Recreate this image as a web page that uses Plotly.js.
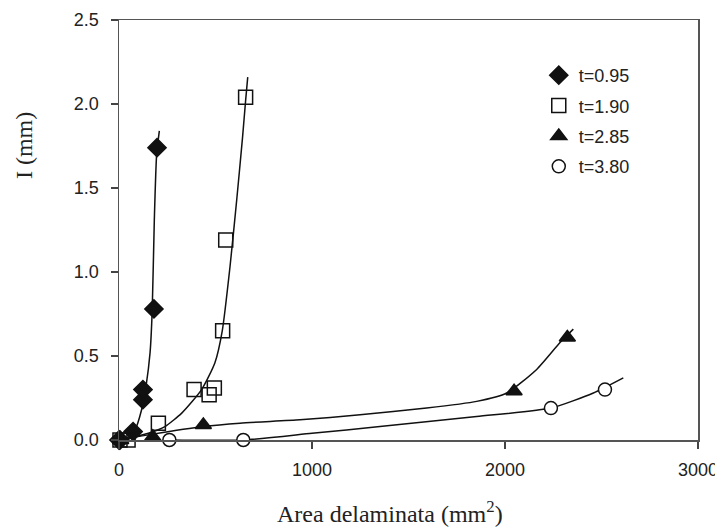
<!DOCTYPE html>
<html>
<head>
<meta charset="utf-8">
<script src="https://cdn.plot.ly/plotly-3.0.1.min.js"></script>
<style>html,body{margin:0;padding:0;background:#fff}#chart{width:715px;height:528px}</style>
</head>
<body>
<div id="chart"></div>
<script>
// Measured points (area mm^2, indentation mm)
const seriesNames = ['t=0.95', 't=1.90', 't=2.85', 't=3.80'];
const x095 = [0, 5, 73, 124, 124, 181, 197];
const y095 = [0, 0, 0.05, 0.24, 0.30, 0.78, 1.74];
const x190 = [5, 47, 204, 389, 467, 494, 537, 553, 656];
const y190 = [0, 0, 0.10, 0.30, 0.27, 0.31, 0.65, 1.19, 2.04];
const x285 = [9, 175, 437, 2047, 2323];
const y285 = [0, 0.02, 0.09, 0.29, 0.61];
const x380 = [261, 644, 2238, 2518];
const y380 = [0, 0, 0.19, 0.30];

// Trend lines
const fx095 = [0, 40, 83, 117, 140, 161, 172, 183, 195, 209];
const fy095 = [0, 0.01, 0.06, 0.18, 0.32, 0.52, 0.77, 1.31, 1.70, 1.84];
const fx190 = [0, 48, 152, 238, 325, 428, 497, 535, 575, 610, 640, 656, 667];
const fy190 = [0, 0.01, 0.04, 0.08, 0.16, 0.30, 0.46, 0.65, 1.03, 1.43, 1.80, 2.02, 2.16];
const fx285 = [0, 175, 437, 627, 938, 1249, 1594, 1853, 2009, 2164, 2285, 2354];
const fy285 = [0, 0.035, 0.08, 0.10, 0.12, 0.15, 0.19, 0.23, 0.28, 0.42, 0.58, 0.66];
const fx380 = [261, 644, 1000, 1352, 1853, 2238, 2458, 2613];
const fy380 = [0, 0, 0.04, 0.08, 0.14, 0.19, 0.28, 0.37];

const xTicks = [0, 1000, 2000, 3000];
const yTicks = [0, 0.5, 1.0, 1.5, 2.0, 2.5];
const xTitle = 'Area delaminata (mm<sup>2</sup>)';
const yTitle = 'I (mm)';

function fit(x, y) {
  return {x: x, y: y, type: 'scatter', mode: 'lines', showlegend: false, hoverinfo: 'skip',
    line: {color: '#111', width: 1.5, shape: 'spline', smoothing: 0.6}, cliponaxis: false};
}
function pts(x, y, name, symbol, size, fill) {
  return {x: x, y: y, type: 'scatter', mode: 'markers', name: name, legendgroup: name,
    cliponaxis: false,
    marker: {symbol: symbol, size: size, color: fill, line: {color: '#111', width: 1.5}}};
}

const data = [
  fit(fx095, fy095), fit(fx190, fy190), fit(fx285, fy285), fit(fx380, fy380),
  pts(x095, y095, seriesNames[0], 'diamond', 14, '#111'),
  pts(x190, y190, seriesNames[1], 'square-open', 14, '#111'),
  pts(x285, y285, seriesNames[2], 'triangle-up', 14, '#111'),
  pts(x380, y380, seriesNames[3], 'circle', 13, '#fff')
];

const tickFont = {family: 'Liberation Sans, Arial, sans-serif', size: 18, color: '#222'};
const titleFont = {family: 'Liberation Serif, Times New Roman, serif', size: 24, color: '#222'};

const layout = {
  width: 715, height: 528,
  margin: {l: 119, r: 17, t: 20, b: 88},
  paper_bgcolor: '#fff', plot_bgcolor: '#fff',
  showlegend: true,
  legend: {x: 0.725, y: 0.912, xanchor: 'left', yanchor: 'top', bgcolor: 'rgba(0,0,0,0)',
    font: {family: 'Liberation Sans, Arial, sans-serif', size: 18, color: '#222'},
    traceorder: 'grouped', tracegroupgap: 4, itemwidth: 30},
  xaxis: {range: [0, 3000], tickvals: xTicks, ticktext: xTicks.map(String),
    ticks: 'outside', ticklen: 7, tickwidth: 1.5, tickcolor: '#444',
    ticklabelstandoff: 6, ticklabeloverflow: 'allow',
    showline: true, linecolor: '#555', linewidth: 1.5, mirror: true,
    showgrid: false, zeroline: false, tickfont: tickFont},
  yaxis: {range: [0, 2.5], tickvals: yTicks, ticktext: yTicks.map(v => v.toFixed(1)),
    ticks: 'outside', ticklen: 7, tickwidth: 1.5, tickcolor: '#444',
    ticklabelstandoff: 8,
    showline: true, linecolor: '#555', linewidth: 1.5, mirror: true,
    showgrid: false, zeroline: false, tickfont: tickFont},
  annotations: [
    {text: xTitle, xref: 'paper', yref: 'paper', x: 0.468, y: -0.171,
     xanchor: 'center', yanchor: 'middle', showarrow: false, font: titleFont},
    {text: yTitle, xref: 'paper', yref: 'paper', x: -0.164, y: 0.70, textangle: -90,
     xanchor: 'center', yanchor: 'middle', showarrow: false, font: titleFont}
  ]
};

Plotly.newPlot('chart', data, layout, {displayModeBar: false, staticPlot: true});
</script>
</body>
</html>
